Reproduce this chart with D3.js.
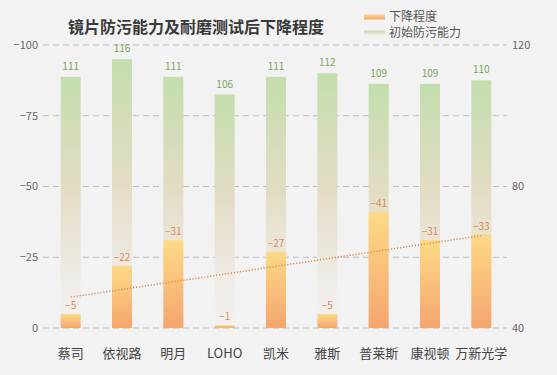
<!DOCTYPE html>
<html>
<head>
<meta charset="utf-8">
<script src="https://cdn.jsdelivr.net/npm/d3@7"></script>
<style>
  body { margin: 0; background: #f2f2f2; }
  svg { display: block; font-family: "Noto Sans CJK SC", "Noto Sans", sans-serif; }
</style>
</head>
<body>
<div id="chart"></div>
<script>
const categories = ["蔡司", "依视路", "明月", "LOHO", "凯米", "雅斯", "普莱斯", "康视顿", "万新光学"];
const initial = [111, 116, 111, 106, 111, 112, 109, 109, 110];
const drop = [-5, -22, -31, -1, -27, -5, -41, -31, -33];
const leftTicks = [0, -25, -50, -75, -100];
const rightTicks = [40, 60, 80, 100, 120];
const rightLabels = [40, 80, 120];

const width = 557, height = 375;
const svg = d3.select("#chart").append("svg")
  .attr("width", width).attr("height", height);

svg.append("rect").attr("width", width).attr("height", height).attr("fill", "#f2f2f2");

const defs = svg.append("defs");
const gGreen = defs.append("linearGradient").attr("id", "gGreen")
  .attr("x1", 0).attr("y1", 0).attr("x2", 0).attr("y2", 1);
gGreen.append("stop").attr("offset", "0%").attr("stop-color", "#c3dead");
gGreen.append("stop").attr("offset", "45%").attr("stop-color", "#e3dcc4");
gGreen.append("stop").attr("offset", "80%").attr("stop-color", "#efebe6");
gGreen.append("stop").attr("offset", "100%").attr("stop-color", "#f2f2f2");

const gOrange = defs.append("linearGradient").attr("id", "gOrange")
  .attr("x1", 0).attr("y1", 0).attr("x2", 0).attr("y2", 1);
gOrange.append("stop").attr("offset", "0%").attr("stop-color", "#fcda85");
gOrange.append("stop").attr("offset", "100%").attr("stop-color", "#f5a56f");

const x = d3.scalePoint().domain(categories).range([45, 507]).padding(0.5);
const yL = d3.scaleLinear().domain([0, -100]).range([328, 45]);
const yR = d3.scaleLinear().domain([40, 120]).range([328, 45]);
const barW = 20;
const fmt = d3.format("d");

// 网格线
svg.append("g").selectAll("line")
  .data(leftTicks)
  .enter().append("line")
  .attr("x1", 43).attr("x2", 507)
  .attr("y1", d => yL(d)).attr("y2", d => yL(d))
  .attr("stroke", "#bdbdbd")
  .attr("stroke-dasharray", "6,4");

// 左轴文字
svg.append("g").selectAll("text")
  .data(leftTicks)
  .enter().append("text")
  .attr("x", 38).attr("y", d => yL(d))
  .attr("dy", "0.35em")
  .attr("text-anchor", "end")
  .attr("font-size", 11)
  .attr("fill", "#666")
  .text(d => fmt(d));

// 右轴文字
svg.append("g").selectAll("text")
  .data(rightLabels)
  .enter().append("text")
  .attr("x", 512).attr("y", d => yR(d))
  .attr("dy", "0.35em")
  .attr("font-size", 11)
  .attr("fill", "#666")
  .text(d => d);

// 初始防污能力
svg.append("g").selectAll("rect")
  .data(initial)
  .enter().append("rect")
  .attr("x", (d, i) => x(categories[i]) - barW / 2)
  .attr("y", d => yR(d))
  .attr("width", barW)
  .attr("height", d => yR(40) - yR(d))
  .attr("fill", "url(#gGreen)");

// 下降程度
svg.append("g").selectAll("rect")
  .data(drop)
  .enter().append("rect")
  .attr("x", (d, i) => x(categories[i]) - barW / 2)
  .attr("y", d => yL(d))
  .attr("width", barW)
  .attr("height", d => yL(0) - yL(d))
  .attr("fill", "url(#gOrange)");

// 趋势线 (linear fit of drop)
const n = drop.length;
const mx = d3.mean(d3.range(n));
const my = d3.mean(drop);
const slope = d3.sum(drop, (d, i) => (i - mx) * (d - my)) / d3.sum(d3.range(n), i => (i - mx) * (i - mx));
const icpt = my - slope * mx;
svg.append("line")
  .attr("x1", x(categories[0])).attr("y1", yL(icpt))
  .attr("x2", x(categories[n - 1])).attr("y2", yL(icpt + slope * (n - 1)))
  .attr("stroke", "#e08a4e")
  .attr("stroke-width", 1.5)
  .attr("stroke-dasharray", "1.2,1.8");

// 数值标签
svg.append("g").selectAll("text")
  .data(initial)
  .enter().append("text")
  .attr("x", (d, i) => x(categories[i]))
  .attr("y", d => yR(d) - 7)
  .attr("text-anchor", "middle")
  .attr("font-size", 10)
  .attr("fill", "#7aa55e")
  .text(d => d);

svg.append("g").selectAll("text")
  .data(drop)
  .enter().append("text")
  .attr("x", (d, i) => x(categories[i]))
  .attr("y", d => yL(d) - 5)
  .attr("text-anchor", "middle")
  .attr("font-size", 10)
  .attr("fill", "#d98a5c")
  .text(d => fmt(d));

// x轴文字
svg.append("g").selectAll("text")
  .data(categories)
  .enter().append("text")
  .attr("x", d => x(d))
  .attr("y", 353)
  .attr("dy", "0.35em")
  .attr("text-anchor", "middle")
  .attr("font-size", 13)
  .attr("fill", "#444")
  .text(d => d);

// 标题
svg.append("text")
  .attr("x", 196).attr("y", 27)
  .attr("dy", "0.35em")
  .attr("text-anchor", "middle")
  .attr("font-size", 16)
  .attr("font-weight", "bold")
  .attr("fill", "#3a3a3a")
  .text("镜片防污能力及耐磨测试后下降程度");

// 图例
const legend = [
  { name: "下降程度", fill: "url(#gOrange)", y: 17 },
  { name: "初始防污能力", fill: "url(#gGreen)", y: 33 }
];
const lg = svg.append("g").selectAll("g")
  .data(legend)
  .enter().append("g");
lg.append("rect")
  .attr("x", 364).attr("y", d => d.y - 2.5)
  .attr("width", 21).attr("height", 5)
  .attr("fill", d => d.fill);
lg.append("text")
  .attr("x", 389).attr("y", d => d.y)
  .attr("dy", "0.35em")
  .attr("font-size", 12)
  .attr("fill", "#555")
  .text(d => d.name);
</script>
</body>
</html>
